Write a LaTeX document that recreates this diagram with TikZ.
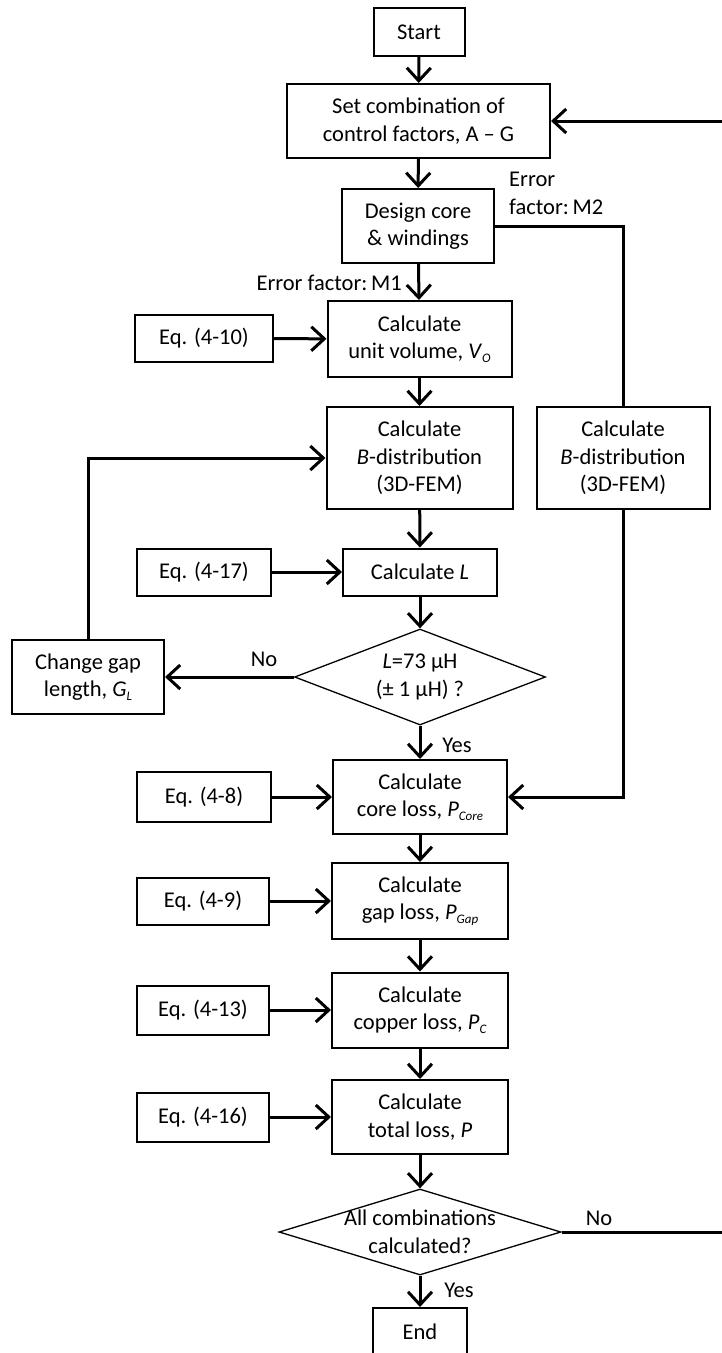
\documentclass[tikz,border=0pt]{standalone}
\usepackage{fontspec}
\setmainfont{Carlito}
\usetikzlibrary{arrows.meta,shapes.geometric}
% small italic subscript
\newcommand\subx[1]{\raisebox{-0.35ex}{\fontsize{13}{13}\selectfont\itshape #1}}
\begin{document}
\begin{tikzpicture}[x=1pt,y=-1pt,
  every node/.style={font=\fontsize{22.5}{27.5}\selectfont, inner sep=0pt, align=center},
  box/.style={draw, line width=2pt},
  dia/.style={draw, diamond, line width=1.3pt},
  lbl/.style={font=\fontsize{22.5}{27.5}\selectfont},
  conn/.style={line width=3pt, line join=miter},
  arr/.style={conn, -{Straight Barb[length=13pt,width=24pt,line width=3pt]}}
]
\useasboundingbox (0,0) rectangle (722,1353);

% main column
\node[box, minimum width=91pt,  minimum height=48pt]  (start)   at (419,32)    {Start};
\node[box, minimum width=263pt, minimum height=74pt]  (set)     at (418.5,121) {Set combination of\\control factors, A – G};
\node[box, minimum width=152pt, minimum height=74pt]  (design)  at (418,226)   {Design core\\\& windings};
\node[box, minimum width=184pt, minimum height=76pt]  (unitvol) at (419.5,339) {Calculate\\unit volume, \textit{V}\subx{O}};
\node[box, minimum width=186pt, minimum height=102pt] (bdist)   at (419.5,458) {Calculate\\\textit{B}-distribution\\(3D-FEM)};
\node[box, minimum width=154pt, minimum height=47pt]  (calcL)   at (420,572)   {Calculate \textit{L}};
\node[dia, minimum width=251pt, minimum height=96pt]  (chk)     at (420,677)   {};
\node at (chk) {\textit{L}=73 μH\\(± 1 μH) ?};
\node[box, minimum width=174pt, minimum height=74pt]  (core)    at (420,797)   {Calculate\\core loss, \textit{P}\subx{Core}};
\node[box, minimum width=176pt, minimum height=76pt]  (gaploss) at (420,901)   {Calculate\\gap loss, \textit{P}\subx{Gap}};
\node[box, minimum width=176pt, minimum height=75pt]  (copper)  at (420,1010)  {Calculate\\copper loss, \textit{P}\subx{C}};
\node[box, minimum width=176pt, minimum height=74pt]  (total)   at (420,1117)  {Calculate\\total loss, \textit{P}};
\node[dia, minimum width=282pt, minimum height=86pt]  (all)     at (420,1232)  {};
\node at (all) {All combinations\\calculated?};
\node[box, minimum width=94pt,  minimum height=48pt]  (end)     at (420,1332)  {End};

% side boxes
\node[box, minimum width=173pt, minimum height=102pt] (bdist2)  at (623,458)   {Calculate\\\textit{B}-distribution\\(3D-FEM)};
\node[box, minimum width=152pt, minimum height=74pt]  (gap)     at (88,677)    {Change gap\\length, \textit{G}\subx{L}};
\node[box, minimum width=138pt, minimum height=47pt]  (eq410)   at (204,338.5) {Eq. (4-10)};
\node[box, minimum width=134pt, minimum height=47pt]  (eq417)   at (204,572)   {Eq. (4-17)};
\node[box, minimum width=134pt, minimum height=50pt]  (eq48)    at (204,797)   {Eq. (4-8)};
\node[box, minimum width=132pt, minimum height=47pt]  (eq49)    at (203,901)   {Eq. (4-9)};
\node[box, minimum width=132pt, minimum height=49pt]  (eq413)   at (203,1010)  {Eq. (4-13)};
\node[box, minimum width=132pt, minimum height=49pt]  (eq416)   at (203,1117)  {Eq. (4-16)};

% labels
\node[lbl, anchor=north west, align=left] (m2) at (509,172) {Error\\factor:\,M2};
\node[lbl, anchor=east] (m1) at (402,283) {Error factor:\,M1};
\node[lbl] (no1)  at (264,659)  {No};
\node[lbl] (yes1) at (457,745)  {Yes};
\node[lbl] (no2)  at (599,1218) {No};
\node[lbl] (yes2) at (459,1290) {Yes};

% return path along the right margin
\coordinate (r1) at (726,1232);
\coordinate (r2) at (726,121);

% connectors
\draw[arr] (start) -- (set);
\draw[arr] (set) -- (design);
\draw[arr] (design) -- (unitvol);
\draw[arr] (eq410) -- (unitvol);
\draw[arr] (unitvol) -- (bdist);
\draw[arr] (bdist) -- (calcL);
\draw[arr] (eq417) -- (calcL);
\draw[arr] (calcL) -- (chk);
\draw[arr] (chk.west) -- (gap.east);
\draw[arr] (gap.north) |- (bdist.west);
\draw[arr] (chk.south) -- (core.north);
\draw[conn] (design.east) -| (bdist2.north);
\draw[arr] (bdist2.south) |- (core.east);
\draw[arr] (eq48) -- (core);
\draw[arr] (core) -- (gaploss);
\draw[arr] (eq49) -- (gaploss);
\draw[arr] (gaploss) -- (copper);
\draw[arr] (eq413) -- (copper);
\draw[arr] (copper) -- (total);
\draw[arr] (eq416) -- (total);
\draw[arr] (total) -- (all.north);
\draw[arr] (all.south) -- (end.north);
\draw[arr] (all.east) -- (r1) -- (r2) -- (set.east);
\end{tikzpicture}
\end{document}
